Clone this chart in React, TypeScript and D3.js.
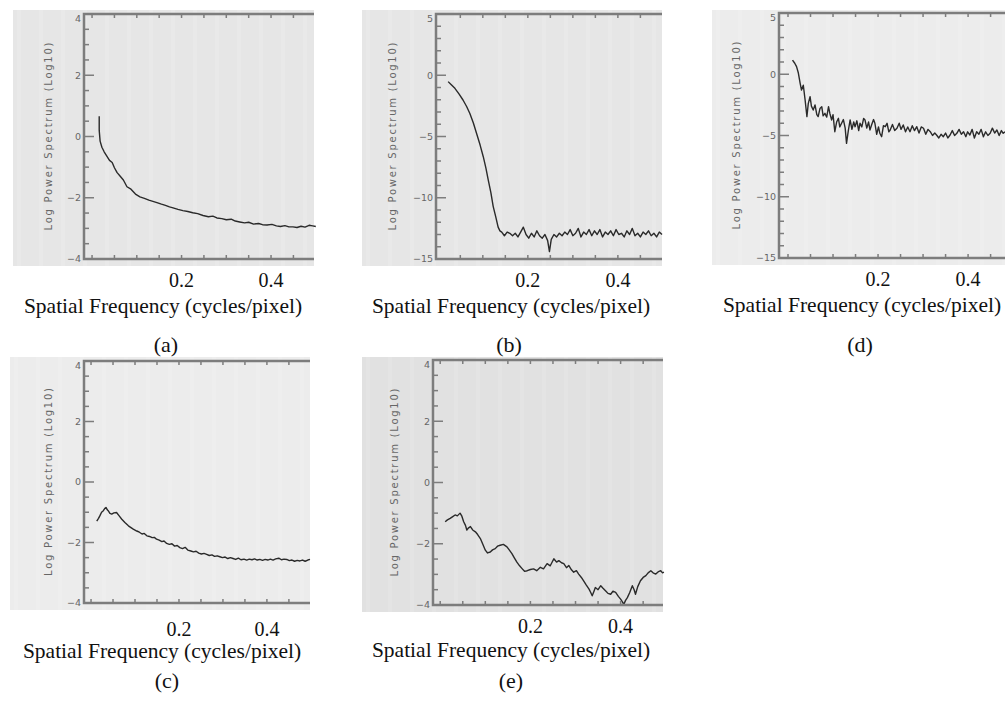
import * as d3 from "d3";

// ---- data ----
const xA = [0.016, 0.016, 0.018, 0.022, 0.027, 0.033, 0.039, 0.045, 0.05, 0.056, 0.062, 0.07, 0.078, 0.087, 0.097, 0.107, 0.117, 0.127, 0.136, 0.145, 0.155, 0.164, 0.173, 0.181, 0.192, 0.203, 0.214, 0.225, 0.236, 0.248, 0.26, 0.27, 0.279, 0.29, 0.3, 0.311, 0.32, 0.33, 0.341, 0.35, 0.361, 0.372, 0.381, 0.391, 0.402, 0.412, 0.421, 0.431, 0.44, 0.449, 0.458, 0.467, 0.476, 0.485, 0.493, 0.5];
const yA = [0.66, 0.2, -0.15, -0.35, -0.5, -0.64, -0.78, -0.85, -1.02, -1.18, -1.28, -1.42, -1.64, -1.72, -1.88, -1.97, -2.02, -2.08, -2.12, -2.16, -2.21, -2.25, -2.3, -2.33, -2.38, -2.42, -2.45, -2.49, -2.52, -2.58, -2.62, -2.6, -2.66, -2.68, -2.72, -2.7, -2.76, -2.79, -2.82, -2.8, -2.86, -2.84, -2.88, -2.89, -2.87, -2.92, -2.94, -2.91, -2.95, -2.95, -2.97, -2.93, -2.96, -2.9, -2.92, -2.94];

const xB = [0.023, 0.03, 0.038, 0.047, 0.056, 0.064, 0.071, 0.079, 0.086, 0.094, 0.101, 0.107, 0.112, 0.118, 0.123, 0.129, 0.134, 0.138, 0.142, 0.148, 0.154, 0.16, 0.166, 0.172, 0.178, 0.184, 0.19, 0.196, 0.202, 0.208, 0.214, 0.22, 0.226, 0.232, 0.238, 0.244, 0.248, 0.252, 0.258, 0.264, 0.27, 0.276, 0.282, 0.288, 0.294, 0.3, 0.306, 0.312, 0.318, 0.324, 0.33, 0.336, 0.342, 0.348, 0.354, 0.36, 0.366, 0.372, 0.378, 0.384, 0.39, 0.396, 0.402, 0.408, 0.414, 0.42, 0.426, 0.432, 0.438, 0.444, 0.45, 0.456, 0.462, 0.468, 0.474, 0.48, 0.486, 0.492, 0.498];
const yB = [-0.52, -0.78, -1.07, -1.52, -2.02, -2.55, -3.1, -3.9, -4.74, -5.7, -6.65, -7.6, -8.55, -9.6, -10.7, -11.6, -12.4, -12.7, -12.8, -13.1, -12.8, -12.9, -13.1, -12.9, -13.2, -12.8, -12.4, -13.0, -13.3, -12.9, -13.2, -12.7, -13.1, -13.3, -13.0, -13.5, -14.4, -13.4, -13.0, -13.2, -12.9, -13.1, -12.8, -13.0, -12.6, -13.1, -12.9, -12.5, -13.2, -12.8, -13.0, -12.6, -13.1, -12.7, -13.0, -12.6, -13.2, -12.8, -13.0, -12.7, -13.1, -12.6, -13.0, -12.9, -13.2, -12.7, -13.0, -12.5, -13.1, -12.9, -13.2, -12.8, -13.0, -12.7, -13.1, -12.9, -13.2, -12.8, -13.0];

const xC = [0.013, 0.017, 0.02, 0.024, 0.028, 0.031, 0.034, 0.037, 0.039, 0.043, 0.047, 0.052, 0.058, 0.064, 0.07, 0.077, 0.085, 0.09, 0.096, 0.104, 0.11, 0.116, 0.121, 0.127, 0.133, 0.139, 0.144, 0.149, 0.155, 0.161, 0.166, 0.172, 0.178, 0.184, 0.19, 0.196, 0.202, 0.208, 0.214, 0.22, 0.227, 0.233, 0.239, 0.245, 0.251, 0.257, 0.263, 0.269, 0.275, 0.281, 0.287, 0.293, 0.299, 0.305, 0.311, 0.317, 0.323, 0.329, 0.335, 0.341, 0.348, 0.354, 0.36, 0.366, 0.372, 0.378, 0.384, 0.39, 0.396, 0.402, 0.408, 0.414, 0.42, 0.427, 0.433, 0.439, 0.445, 0.451, 0.457, 0.463, 0.469, 0.475, 0.481, 0.487, 0.493, 0.498];
const yC = [-1.29, -1.2, -1.12, -1.0, -0.95, -0.88, -0.84, -0.92, -0.95, -1.04, -1.06, -1.02, -1.01, -1.12, -1.23, -1.34, -1.45, -1.5, -1.56, -1.62, -1.66, -1.72, -1.7, -1.78, -1.8, -1.84, -1.83, -1.89, -1.92, -1.97, -1.95, -2.03, -2.06, -2.04, -2.12, -2.1, -2.17, -2.2, -2.16, -2.25, -2.28, -2.31, -2.29, -2.35, -2.38, -2.36, -2.39, -2.43, -2.41, -2.46, -2.44, -2.47, -2.5, -2.48, -2.53, -2.5, -2.53, -2.56, -2.52, -2.57, -2.55, -2.58, -2.55, -2.57, -2.54, -2.58, -2.56, -2.59, -2.56, -2.58, -2.55, -2.58, -2.54, -2.52, -2.57, -2.55, -2.56, -2.6, -2.58, -2.62, -2.59, -2.61, -2.58, -2.62, -2.58, -2.56];

const xD = [0.01, 0.015, 0.019, 0.023, 0.027, 0.03, 0.034, 0.038, 0.042, 0.045, 0.049, 0.052, 0.056, 0.06, 0.064, 0.067, 0.071, 0.075, 0.078, 0.082, 0.086, 0.09, 0.093, 0.097, 0.1, 0.104, 0.108, 0.112, 0.115, 0.119, 0.123, 0.127, 0.13, 0.134, 0.138, 0.142, 0.146, 0.149, 0.153, 0.157, 0.16, 0.164, 0.168, 0.171, 0.175, 0.179, 0.182, 0.186, 0.19, 0.193, 0.197, 0.201, 0.204, 0.208, 0.212, 0.216, 0.22, 0.224, 0.227, 0.232, 0.237, 0.242, 0.247, 0.251, 0.256, 0.261, 0.266, 0.271, 0.276, 0.281, 0.286, 0.291, 0.296, 0.301, 0.306, 0.311, 0.316, 0.321, 0.326, 0.33, 0.335, 0.34, 0.345, 0.35, 0.355, 0.36, 0.365, 0.37, 0.375, 0.38, 0.385, 0.39, 0.395, 0.399, 0.404, 0.409, 0.414, 0.419, 0.424, 0.429, 0.434, 0.439, 0.444, 0.449, 0.454, 0.459, 0.464, 0.469, 0.474, 0.478, 0.482];
const yD = [1.16, 0.9, 0.62, 0.1, -0.74, -1.29, -0.9, -2.1, -3.46, -2.4, -1.83, -2.6, -2.92, -2.5, -3.3, -3.46, -2.8, -2.65, -3.4, -3.19, -3.5, -2.65, -3.2, -3.73, -3.3, -4.69, -3.9, -3.6, -4.3, -4.0, -3.7, -4.4, -5.64, -4.6, -3.73, -4.5, -3.9, -4.28, -3.8, -4.6, -4.0, -4.3, -3.6, -3.73, -4.4, -3.9, -4.55, -4.1, -3.7, -4.0, -4.9, -4.3, -4.82, -5.1, -4.2, -4.28, -4.0, -4.7, -4.55, -4.1, -4.6, -4.41, -4.0, -4.5, -4.14, -4.7, -4.3, -4.69, -4.2, -4.6, -4.28, -4.8, -4.3, -4.41, -4.9, -4.5, -4.69, -5.0, -4.8, -4.96, -5.2, -4.9, -5.1, -4.8, -5.2, -4.96, -4.6, -5.0, -4.82, -4.5, -4.9, -4.69, -5.1, -4.7, -4.96, -4.5, -5.2, -4.69, -4.9, -4.5, -5.1, -4.7, -5.0, -4.82, -4.4, -4.8, -4.55, -5.0, -4.6, -4.82, -4.7];

const xE = [0.011, 0.016, 0.022, 0.027, 0.033, 0.038, 0.044, 0.048, 0.052, 0.056, 0.059, 0.063, 0.067, 0.072, 0.078, 0.083, 0.089, 0.094, 0.1, 0.105, 0.111, 0.116, 0.122, 0.127, 0.133, 0.14, 0.148, 0.153, 0.159, 0.164, 0.17, 0.176, 0.182, 0.187, 0.193, 0.2, 0.207, 0.214, 0.222, 0.229, 0.237, 0.244, 0.252, 0.258, 0.263, 0.269, 0.274, 0.28, 0.285, 0.291, 0.296, 0.302, 0.307, 0.313, 0.318, 0.324, 0.33, 0.334, 0.337, 0.341, 0.344, 0.35, 0.356, 0.361, 0.367, 0.372, 0.378, 0.383, 0.389, 0.395, 0.4, 0.404, 0.407, 0.411, 0.415, 0.42, 0.426, 0.43, 0.433, 0.438, 0.444, 0.45, 0.456, 0.461, 0.467, 0.472, 0.478, 0.483, 0.489, 0.493, 0.496];
const yE = [-1.28, -1.22, -1.17, -1.12, -1.06, -1.09, -1.0, -1.1, -1.28, -1.4, -1.55, -1.48, -1.44, -1.55, -1.61, -1.7, -1.83, -2.0, -2.21, -2.3, -2.27, -2.2, -2.16, -2.08, -2.05, -2.02, -2.1, -2.2, -2.32, -2.45, -2.6, -2.72, -2.82, -2.9, -2.88, -2.84, -2.82, -2.88, -2.77, -2.82, -2.65, -2.72, -2.49, -2.6, -2.55, -2.62, -2.65, -2.78, -2.71, -2.85, -2.93, -2.88, -2.99, -3.1, -3.21, -3.35, -3.48, -3.6, -3.7, -3.55, -3.43, -3.5, -3.37, -3.45, -3.54, -3.62, -3.65, -3.55, -3.59, -3.72, -3.81, -3.9, -3.98, -3.85, -3.76, -3.6, -3.37, -3.5, -3.65, -3.4, -3.21, -3.1, -3.04, -2.95, -2.88, -2.95, -2.99, -2.92, -2.88, -2.95, -2.93];

const yTicks4 = [-4, -2, 0, 2, 4];
const yTicks15 = [-15, -10, -5, 0, 5];
const xTickLabels = [0.2, 0.4];
const xTitle = "Spatial Frequency (cycles/pixel)";
const yTitle = "Log Power Spectrum (Log10)";

// layout of each cropped plot window
const panels = [
  { name: "(a)", xs: xA, ys: yA, yTicks: yTicks4, minor: 0.5, bg: "#e6e6e6",
    box: [13, 10, 314, 266], xDom: [-0.018, 0.496], xR: [84, 314], yR: [259, 14],
    tickY: 287, titleX: 163, titleY: 313, capX: 166, capY: 352, ylabX: 48 },
  { name: "(b)", xs: xB, ys: yB, yTicks: yTicks15, minor: 1, bg: "#e6e6e6",
    box: [362, 10, 662, 266], xDom: [-0.004, 0.498], xR: [436, 662], yR: [259, 14],
    tickY: 287, titleX: 511, titleY: 313, capX: 509, capY: 352, ylabX: 392 },
  { name: "(d)", xs: xD, ys: yD, yTicks: yTicks15, minor: 1, bg: "#ececec",
    box: [712, 10, 1005, 265], xDom: [-0.02, 0.482], xR: [779, 1005], yR: [258, 13],
    tickY: 286, titleX: 862, titleY: 312, capX: 860, capY: 352, ylabX: 736 },
  { name: "(c)", xs: xC, ys: yC, yTicks: yTicks4, minor: 0.5, bg: "#ececec",
    box: [10, 357, 310, 610], xDom: [-0.016, 0.498], xR: [84, 310], yR: [603, 361],
    tickY: 636, titleX: 162, titleY: 658, capX: 167, capY: 688, ylabX: 48 },
  { name: "(e)", xs: xE, ys: yE, yTicks: yTicks4, minor: 0.5, bg: "#e1e1e1",
    box: [362, 357, 663, 612], xDom: [-0.016, 0.494], xR: [433, 663], yR: [605, 360],
    tickY: 633, titleX: 511, titleY: 657, capX: 511, capY: 688, ylabX: 394 },
];

const axisCol = "#7d7d7d";

function Panel({ p }: { p: any }) {
  const x = d3.scaleLinear().domain(p.xDom).range(p.xR);
  const y = d3.scaleLinear().domain([p.yTicks[0], p.yTicks[p.yTicks.length - 1]]).range(p.yR);
  const [bx0, by0, bx1, by1] = p.box;
  const left = p.xR[0];
  const right = p.xR[1];
  const top = p.yR[1];
  const bottom = p.yR[0];

  const yMinor = d3.range(p.yTicks[0], p.yTicks[p.yTicks.length - 1] + 1e-9, p.minor)
    .filter((v) => !p.yTicks.includes(v));
  const xMinor = d3.range(0, 0.5001, 0.05).filter((v) => x(v) > left + 3 && x(v) < right - 1);

  const line = d3.line<number>()
    .x((_, i) => x(p.xs[i]))
    .y((d) => y(d));

  const midY = (top + bottom) / 2;

  return (
    <g>
      <rect x={bx0} y={by0} width={bx1 - bx0} height={by1 - by0} fill={p.bg} />
      {/* faint vertical banding of the screenshot */}
      {d3.range(bx0 + 6, bx1, 22).map((v) => (
        <line key={"b" + v} x1={v} x2={v} y1={by0} y2={by1} stroke="#ffffff" strokeOpacity={0.12} strokeWidth={4} />
      ))}
      <path d={line(p.ys) || ""} fill="none" stroke="#2a2a2a" strokeWidth={1.4} strokeLinejoin="round" />
      {/* frame */}
      <path d={`M${right},${top}H${left}V${bottom}H${right}`} fill="none" stroke={axisCol} strokeWidth={2.5} />
      {p.yTicks.map((v: number) => (
        <g key={"y" + v}>
          <line x1={left} x2={left + 10} y1={y(v)} y2={y(v)} stroke={axisCol} strokeWidth={1.5} />
          <text x={left - 3} y={Math.min(Math.max(y(v), top + 5), bottom)} dy="0.35em" textAnchor="end"
            fontFamily="DejaVu Sans, sans-serif" fontSize={9.5} fill="#666">
            {v < 0 ? "\u2212" + Math.abs(v) : v}
          </text>
        </g>
      ))}
      {yMinor.map((v) => (
        <line key={"ym" + v} x1={left} x2={left + 5} y1={y(v)} y2={y(v)} stroke={axisCol} strokeWidth={1.5} />
      ))}
      {xMinor.map((v) => (
        <g key={"x" + v}>
          <line x1={x(v)} x2={x(v)} y1={top} y2={top + 4} stroke={axisCol} strokeWidth={1.5} />
          <line x1={x(v)} x2={x(v)} y1={bottom} y2={bottom - 4} stroke={axisCol} strokeWidth={1.5} />
        </g>
      ))}
      <text transform={`translate(${p.ylabX},${midY}) rotate(-90)`} textAnchor="middle" dy="0.35em"
        fontFamily="DejaVu Sans, sans-serif" fontSize={10} fill="#666" textLength={188} lengthAdjust="spacing">
        {yTitle}
      </text>
      {xTickLabels.map((v) => (
        <text key={"xl" + v} x={x(v)} y={p.tickY} textAnchor="middle" fontFamily="Liberation Serif, serif" fontSize={20} fill="#111">
          {v.toFixed(1)}
        </text>
      ))}
      <text x={p.titleX} y={p.titleY} textAnchor="middle" fontFamily="Liberation Serif, serif" fontSize={21.5} fill="#111">
        {xTitle}
      </text>
      <text x={p.capX} y={p.capY} textAnchor="middle" fontFamily="Liberation Serif, serif" fontSize={22} fill="#111">
        {p.name}
      </text>
    </g>
  );
}

export default function App() {
  return (
    <svg width={1005} height={705} style={{ position: "absolute", left: 0, top: 0, background: "#fff" }}>
      {panels.map((p) => (
        <Panel key={p.name} p={p} />
      ))}
    </svg>
  );
}
